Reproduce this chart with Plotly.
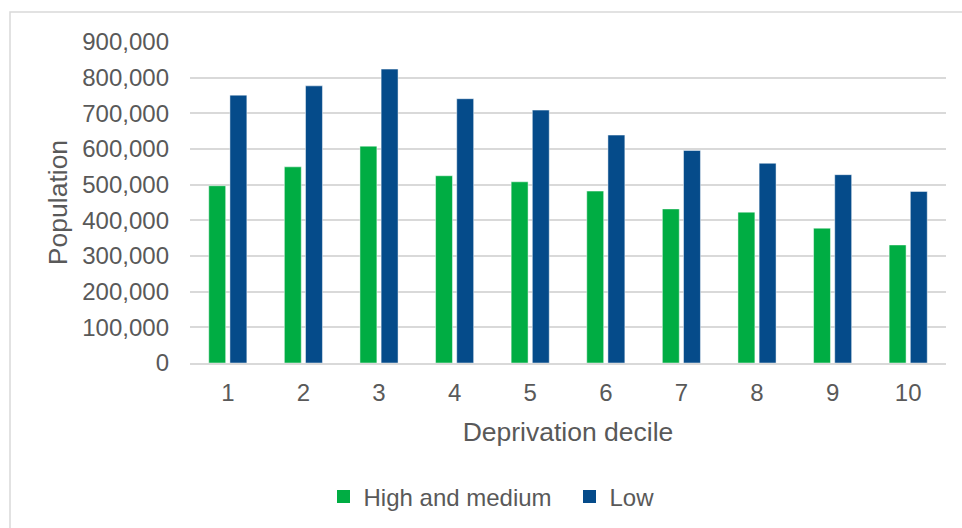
import plotly.graph_objects as go

deciles = ["1", "2", "3", "4", "5", "6", "7", "8", "9", "10"]
high_medium = [497000, 550000, 608000, 525000, 508000, 482000, 432000, 423000, 378000, 331000]
low = [751000, 777000, 824000, 741000, 709000, 639000, 596000, 560000, 528000, 481000]
y_ticks = [0, 100000, 200000, 300000, 400000, 500000, 600000, 700000, 800000, 900000]
y_tick_text = ["0", "100,000", "200,000", "300,000", "400,000", "500,000",
               "600,000", "700,000", "800,000", "900,000"]
series_names = ["High and medium", "Low"]

GREEN = "#00AD43"
BLUE = "#054B8A"
TEXT = "#595959"
FONT = "Liberation Sans, Arial, sans-serif"

fig = go.Figure()
fig.add_trace(go.Bar(x=deciles, y=high_medium, name=series_names[0], showlegend=False,
                     marker=dict(color=GREEN, line=dict(color="rgba(255,255,255,0.6)", width=0.8))))
fig.add_trace(go.Bar(x=deciles, y=low, name=series_names[1], showlegend=False,
                     marker=dict(color=BLUE, line=dict(color="rgba(255,255,255,0.6)", width=0.8))))
# legend entries with square swatches
for nm, col in zip(series_names, [GREEN, BLUE]):
    fig.add_trace(go.Scatter(x=[None], y=[None], mode="markers", name=nm,
                             marker=dict(symbol="square", size=13, color=col)))

W, H = 962, 528
L, R, T, B = 190, 16, 42, 165
pw, ph = W - L - R, H - T - B

def px_x(x):
    return (x - L) / pw

def px_y(y):
    return (H - B - y) / ph

fig.update_layout(
    width=W, height=H,
    margin=dict(l=L, r=R, t=T, b=B, autoexpand=False),
    paper_bgcolor="white", plot_bgcolor="white",
    barmode="group", bargap=0.44, bargroupgap=0.2,
    font=dict(family=FONT, color=TEXT, size=24),
    showlegend=True,
    legend=dict(orientation="h", x=px_x(569.5), xanchor="center", y=px_y(497), yanchor="middle",
                font=dict(size=24, color=TEXT), itemsizing="trace", traceorder="normal",
                bgcolor="rgba(0,0,0,0)", entrywidth=201, entrywidthmode="pixels"),
    xaxis=dict(
        showgrid=False, showline=True, linecolor="#D9D9D9", linewidth=2,
        ticks="", tickfont=dict(size=24, color=TEXT), ticklabelstandoff=7,
        title=dict(text="Deprivation decile", font=dict(size=26.5, color=TEXT), standoff=18),
        fixedrange=True,
    ),
    yaxis=dict(
        range=[0, 900000], tickvals=y_ticks, ticktext=y_tick_text,
        showgrid=True, gridcolor="#D9D9D9", gridwidth=2, zeroline=False,
        showline=False, ticks="", tickfont=dict(size=24, color=TEXT), ticklabelstandoff=20,
        title=dict(text="Population", font=dict(size=26.5, color=TEXT), standoff=6),
        fixedrange=True,
    ),
    shapes=[dict(type="rect", xref="paper", yref="paper",
                 x0=px_x(10), x1=px_x(990), y0=px_y(560), y1=px_y(12),
                 line=dict(color="#D9D9D9", width=1.5), fillcolor="rgba(0,0,0,0)", layer="below")],
)

fig.write_html("out.html", config={"displayModeBar": False})
